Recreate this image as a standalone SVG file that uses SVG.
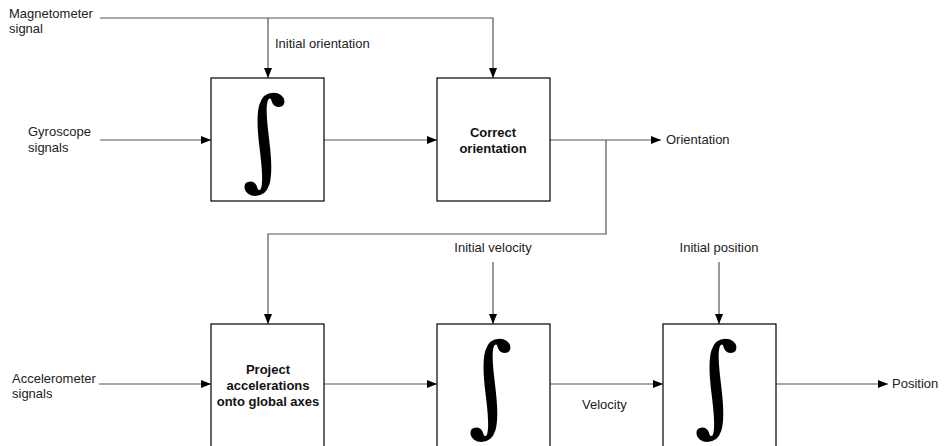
<svg xmlns="http://www.w3.org/2000/svg" width="944" height="446" viewBox="0 0 944 446">
<style>
text{font-family:"Liberation Sans",Arial,sans-serif;font-size:13px;fill:#222}
.b{font-weight:bold;text-anchor:middle;fill:#111}
.box{fill:#fff;stroke:#000;stroke-width:1.2}
.c{fill:none;stroke:#555;stroke-width:1.2}
.int{font-family:"DejaVu Serif",serif;font-size:110px;fill:#000;text-anchor:middle}
</style>
<defs>
<marker id="ah" markerWidth="10" markerHeight="8" refX="10" refY="4" orient="auto" markerUnits="userSpaceOnUse">
<path d="M0,0 L10,4 L0,8 Z" fill="#000"/>
</marker>
</defs>
<g id="connectors">
<path class="c" d="M100,18 H493 V78" marker-end="url(#ah)"/>
<path class="c" d="M268,18 V78" marker-end="url(#ah)"/>
<path class="c" d="M100,140 H211" marker-end="url(#ah)"/>
<path class="c" d="M324,140 H437" marker-end="url(#ah)"/>
<path class="c" d="M550,140 H661" marker-end="url(#ah)"/>
<path class="c" d="M606,140 V234 H268 V324" marker-end="url(#ah)"/>
<path class="c" d="M493,262 V324" marker-end="url(#ah)"/>
<path class="c" d="M719,262 V324" marker-end="url(#ah)"/>
<path class="c" d="M99,384 H211" marker-end="url(#ah)"/>
<path class="c" d="M324,384 H437" marker-end="url(#ah)"/>
<path class="c" d="M550,384 H663" marker-end="url(#ah)"/>
<path class="c" d="M776,384 H888" marker-end="url(#ah)"/>
</g>
<g id="labels">
<text x="9" y="18">Magnetometer</text>
<text x="9" y="33">signal</text>
<text x="275" y="48">Initial orientation</text>
<text x="28" y="136">Gyroscope</text>
<text x="28" y="152">signals</text>
<text x="666" y="144">Orientation</text>
<text x="493" y="252" text-anchor="middle">Initial velocity</text>
<text x="719" y="252" text-anchor="middle">Initial position</text>
<text x="12" y="383">Accelerometer</text>
<text x="12" y="398">signals</text>
<text x="582" y="409">Velocity</text>
<text x="892" y="388">Position</text>
</g>
<g id="integrate1">
<rect class="box" x="211" y="78" width="113" height="123"/>
<text class="int" transform="translate(264,141) skewX(8)" x="0" y="35">∫</text>
</g>
<g id="correct">
<rect class="box" x="437" y="78" width="113" height="123"/>
<text class="b" x="493" y="137">Correct</text>
<text class="b" x="493" y="153">orientation</text>
</g>
<g id="project">
<rect class="box" x="211" y="324" width="113" height="130"/>
<text class="b" x="268" y="374">Project</text>
<text class="b" x="268" y="390">accelerations</text>
<text class="b" x="268" y="406">onto global axes</text>
</g>
<g id="integrate2">
<rect class="box" x="437" y="324" width="113" height="130"/>
<text class="int" transform="translate(490,387) skewX(8)" x="0" y="35">∫</text>
</g>
<g id="integrate3">
<rect class="box" x="663" y="324" width="113" height="130"/>
<text class="int" transform="translate(716,387) skewX(8)" x="0" y="35">∫</text>
</g>
</svg>
